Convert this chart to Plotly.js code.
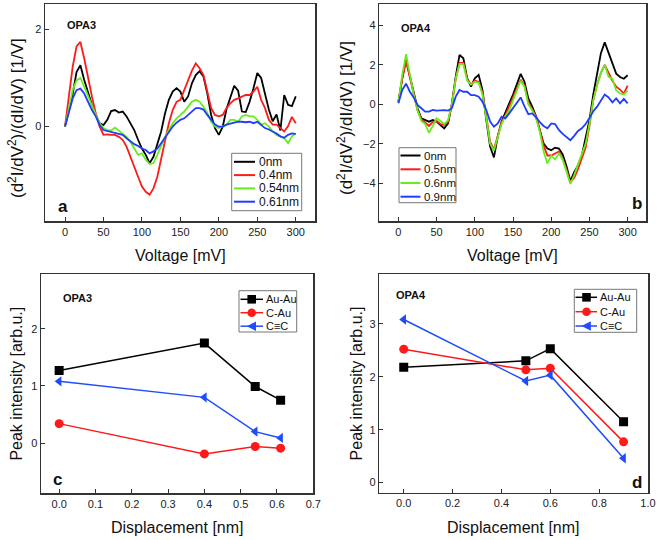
<!DOCTYPE html>
<html>
<head>
<meta charset="utf-8">
<script src="https://cdn.plot.ly/plotly-3.0.1.min.js"></script>
<style>html,body{margin:0;padding:0;background:#fff;}#chart{width:661px;height:540px;}</style>
</head>
<body>
<div id="chart"></div>
<script>
// ---------- DATA ----------
var voltage = [0,5,10,15,20,25,30,35,40,45,50,55,60,65,70,75,80,85,90,95,100,105,110,115,120,125,130,135,140,145,150,155,160,165,170,175,180,185,190,195,200,205,210,215,220,225,230,235,240,245,250,255,260,265,270,275,280,285,290,295,300];

// Panel a (OPA3)
var opa3Labels = ["0nm", "0.4nm", "0.54nm", "0.61nm"];
var opa3_0nm = [0,0.35,0.67,1.12,1.26,0.96,0.68,0.45,0.24,0.07,0.03,0.14,0.32,0.34,0.29,0.31,0.21,0.07,-0.07,-0.27,-0.45,-0.58,-0.75,-0.62,-0.34,-0.10,0.27,0.55,0.72,0.79,0.72,0.51,0.62,0.89,1.06,1.14,1.03,0.68,0.24,-0.03,-0.17,0.0,0.36,0.62,0.84,0.74,0.31,0.30,0.51,0.79,1.10,1.0,0.69,0.35,0.11,0.25,-0.08,0.65,0.45,0.42,0.62];
var opa3_04nm = [0,0.6,1.23,1.65,1.74,1.40,0.99,0.62,0.27,0.0,-0.17,-0.16,-0.17,-0.17,-0.21,-0.27,-0.41,-0.62,-0.86,-1.03,-1.23,-1.34,-1.40,-1.27,-1.03,-0.68,-0.27,0.07,0.34,0.51,0.55,0.75,0.98,1.15,1.30,1.20,1.06,0.72,0.38,0.24,0.21,0.24,0.38,0.48,0.55,0.58,0.62,0.65,0.65,0.72,0.82,0.55,0.38,0.14,0.04,0.04,-0.03,-0.10,0.01,0.20,0.07];
var opa3_054nm = [0,0.4,0.75,0.95,1.0,0.82,0.62,0.41,0.24,0.07,-0.03,-0.07,-0.08,-0.02,-0.08,-0.14,-0.21,-0.31,-0.45,-0.58,-0.55,-0.68,-0.77,-0.75,-0.58,-0.38,-0.21,-0.07,0.07,0.17,0.24,0.31,0.41,0.51,0.55,0.51,0.41,0.28,0.10,0.0,-0.03,0.0,0.04,0.14,0.14,0.10,0.21,0.24,0.21,0.21,0.14,0.04,0.07,0.0,-0.10,-0.17,-0.20,-0.24,-0.34,-0.20,-0.14];
var opa3_061nm = [0,0.3,0.58,0.75,0.78,0.68,0.51,0.34,0.21,0.03,-0.07,-0.09,-0.10,-0.12,-0.14,-0.17,-0.24,-0.31,-0.36,-0.40,-0.45,-0.48,-0.55,-0.51,-0.45,-0.34,-0.22,-0.10,0.0,0.08,0.14,0.17,0.24,0.31,0.38,0.38,0.35,0.24,0.14,0.04,0.0,0.0,0.04,0.06,0.09,0.10,0.10,0.09,0.10,0.07,0.10,0.04,-0.03,-0.06,-0.10,-0.14,-0.20,-0.23,-0.17,-0.14,-0.15];

// Panel b (OPA4)
var opa4Labels = ["0nm", "0.5nm", "0.6nm", "0.9nm"];
var opa4_0nm = [0.14,1.32,2.25,1.41,0.56,-0.2,-0.71,-0.8,-0.88,-0.8,-0.88,-1.05,-1.22,-0.97,0.05,1.41,2.51,2.34,1.32,0.9,1.32,1.5,0.73,-0.8,-2.15,-2.7,-1.64,-0.88,-0.46,0.05,0.5,1.07,1.55,1.15,0.3,-0.1,-0.6,-1.3,-1.99,-2.25,-2.33,-2.2,-2.25,-2.55,-3.15,-3.9,-3.45,-3.1,-2.6,-1.7,-0.8,0.5,1.6,2.6,3.15,2.6,2.0,1.56,1.39,1.3,1.48];
var opa4_05nm = [0.1,1.3,2.2,1.4,0.55,-0.3,-0.75,-0.95,-1.1,-0.9,-0.85,-1.0,-1.05,-0.9,0.0,1.3,2.1,2.1,1.3,1.0,1.2,1.15,0.6,-0.6,-1.9,-2.3,-1.6,-0.9,-0.55,-0.1,0.35,0.85,1.25,0.95,0.1,-0.25,-0.6,-1.3,-2.1,-2.6,-2.6,-2.5,-2.4,-2.8,-3.3,-3.95,-3.75,-3.3,-2.8,-2.2,-1.1,0.2,1.0,1.6,2.0,1.6,1.2,0.9,0.75,0.55,0.95];
var opa4_06nm = [0.1,1.5,2.55,1.5,0.5,-0.3,-0.85,-1.0,-1.45,-1.1,-0.7,-0.85,-1.0,-0.8,0.0,1.3,2.05,2.05,1.2,1.0,1.15,1.1,0.5,-0.7,-2.0,-2.35,-1.7,-1.0,-0.6,-0.3,0.2,0.7,1.2,0.9,0.0,-0.3,-0.7,-1.4,-2.4,-3.0,-2.6,-2.8,-2.5,-2.8,-3.4,-4.05,-3.6,-3.1,-2.6,-2.0,-1.0,0.2,1.0,1.6,2.0,1.4,1.3,0.7,0.55,0.5,0.7];
var opa4_09nm = [0.05,0.73,1.05,0.64,0.35,-0.03,-0.2,-0.37,-0.37,-0.29,-0.32,-0.29,-0.29,-0.32,-0.2,0.39,0.73,0.64,0.64,0.47,0.47,0.39,0.14,-0.29,-0.88,-1.14,-0.97,-0.63,-0.71,-0.46,-0.2,0.05,0.35,-0.1,-0.5,-0.46,-0.65,-0.9,-1.1,-1.22,-0.97,-1.0,-1.3,-1.5,-1.65,-1.82,-1.6,-1.35,-1.22,-1.0,-0.7,-0.35,-0.12,0.2,0.5,0.35,0.1,0.3,0.05,0.28,0.05];

// Panel c (OPA3 peaks)
var bondLabels = ["Au-Au", "C-Au", "C\u2261C"];
var dispOPA3 = [0, 0.4, 0.54, 0.61];
var opa3AuAu = [1.27, 1.75, 0.99, 0.75];
var opa3CAu = [0.34, -0.19, -0.06, -0.09];
var opa3CC = [1.08, 0.80, 0.20, 0.09];

// Panel d (OPA4 peaks)
var dispOPA4 = [0, 0.5, 0.6, 0.9];
var opa4AuAu = [2.18, 2.30, 2.53, 1.15];
var opa4CAu = [2.52, 2.13, 2.16, 0.77];
var opa4CC = [3.08, 1.92, 2.03, 0.46];

// Axis titles
var xTitleV = "Voltage [mV]";
var xTitleD = "Displacement [nm]";
var yTitleA = "(d<sup>2</sup>I/dV<sup>2</sup>)/(dI/dV) [1/V]";
var yTitleB = "(d<sup>2</sup>I/dV<sup>2</sup>)/dI/dV) [1/V]";
var yTitleP = "Peak intensity [arb.u.]";

// ---------- STYLE ----------
var W = 661, H = 540;
function PX(px){ return px / W; }
function PY(py){ return 1 - py / H; }
var FONT = "Liberation Sans, Arial, sans-serif";
var curveColors = ["#000000", "#ff1a1a", "#66ee1a", "#1f3cff"];
var bondColors = ["#000000", "#ff1a1a", "#1f4cff"];
var bondSymbols = ["square", "circle", "triangle-left"];

var traces = [];
var aSeries = [opa3_0nm, opa3_04nm, opa3_054nm, opa3_061nm];
aSeries.forEach(function(s, i){
  traces.push({x: voltage, y: s, xaxis: "x", yaxis: "y", mode: "lines", name: opa3Labels[i],
    line: {color: curveColors[i], width: 1.8}});
});
var bSeries = [opa4_0nm, opa4_05nm, opa4_06nm, opa4_09nm];
bSeries.forEach(function(s, i){
  traces.push({x: voltage, y: s, xaxis: "x2", yaxis: "y2", mode: "lines", name: opa4Labels[i],
    line: {color: curveColors[i], width: 1.8}});
});
var cSeries = [opa3AuAu, opa3CAu, opa3CC];
cSeries.forEach(function(s, i){
  traces.push({x: dispOPA3, y: s, xaxis: "x3", yaxis: "y3", mode: "lines+markers", name: bondLabels[i],
    line: {color: bondColors[i], width: 1.5}, marker: {symbol: bondSymbols[i], size: 9, color: bondColors[i]}});
});
var dSeries = [opa4AuAu, opa4CAu, opa4CC];
dSeries.forEach(function(s, i){
  traces.push({x: dispOPA4, y: s, xaxis: "x4", yaxis: "y4", mode: "lines+markers", name: bondLabels[i],
    line: {color: bondColors[i], width: 1.5}, marker: {symbol: bondSymbols[i], size: 9, color: bondColors[i]}});
});

function axis(domain, range, dtick, anchor, extra){
  var a = {domain: domain, range: range, dtick: dtick, tick0: 0, anchor: anchor,
    showline: true, mirror: true, linecolor: "#333", linewidth: 1.5,
    ticks: "inside", ticklen: 4, tickwidth: 1, tickcolor: "#333",
    showgrid: false, zeroline: false,
    tickfont: {family: FONT, size: 11, color: "#222"}};
  for (var k in extra) a[k] = extra[k];
  return a;
}

var yA = [PY(221), PY(4)], yC = [PY(493.3), PY(274)], yD = [PY(492.7), PY(274)];
var layout = {
  width: W, height: H, margin: {l: 0, r: 0, t: 0, b: 0},
  paper_bgcolor: "#fff", plot_bgcolor: "#fff", showlegend: false,
  font: {family: FONT, color: "#222"},
  xaxis: axis([PX(45), PX(315)], [-26, 325], 50, "y", {}),
  yaxis: axis(yA, [-1.94, 2.52], 2, "x", {}),
  xaxis2: axis([PX(379.3), PX(646)], [-25, 324], 50, "y2", {}),
  yaxis2: axis(yA, [-5.93, 5.1], 2, "x2", {}),
  xaxis3: axis([PX(41), PX(313.3)], [-0.05, 0.7], 0.1, "y3", {tickformat: ".1f"}),
  yaxis3: axis(yC, [-0.88, 2.96], 1, "x3", {}),
  xaxis4: axis([PX(379.3), PX(648)], [-0.1, 1.0], 0.2, "y4", {tickformat: ".1f"}),
  yaxis4: axis(yD, [-0.19, 3.94], 1, "x4", {}),
  shapes: [], annotations: []
};

function addText(text, px, py, size, bold, anchor, angle){
  layout.annotations.push({xref: "paper", yref: "paper", x: PX(px), y: PY(py), text: text,
    showarrow: false, xanchor: anchor || "left", yanchor: "middle", borderpad: 0, textangle: angle || 0,
    font: {family: FONT, size: size, color: "#111", weight: bold ? "bold" : "normal"}});
}
// axis titles
addText(xTitleV, 180, 255.5, 16, false, "center");
addText(xTitleV, 512.6, 255.5, 16, false, "center");
addText(xTitleD, 177, 527, 16, false, "center");
addText(xTitleD, 513.6, 527, 16, false, "center");
addText(yTitleA, 16, 118, 17, false, "center", -90);
addText(yTitleB, 345, 118, 17, false, "center", -90);
addText(yTitleP, 17, 383.6, 16, false, "center", -90);
addText(yTitleP, 356, 383.4, 16, false, "center", -90);
// panel labels
addText("OPA3", 66, 25, 11, true);
addText("a", 57, 206.5, 17, true);
addText("OPA4", 400, 28.3, 11, true);
addText("b", 631, 203.3, 17, true);
addText("OPA3", 61.5, 298.3, 11, true);
addText("c", 52, 479.3, 17, true);
addText("OPA4", 395, 295, 11, true);
addText("d", 631, 482.3, 17, true);

// legends (boxes, samples, labels)
function legendBox(x0, y0, x1, y1){
  layout.shapes.push({type: "rect", xref: "paper", yref: "paper", x0: PX(x0), x1: PX(x1), y0: PY(y1), y1: PY(y0),
    line: {color: "#777", width: 1}, fillcolor: "#fff", layer: "above"});
}
function legendLine(x0, x1, py, color, w){
  layout.shapes.push({type: "line", xref: "paper", yref: "paper", x0: PX(x0), x1: PX(x1), y0: PY(py), y1: PY(py),
    line: {color: color, width: w}, layer: "above"});
}
function legendMarker(sym, cx, cy, color){
  var r = 4.3;
  if (sym === "square") {
    layout.shapes.push({type: "rect", xref: "paper", yref: "paper", x0: PX(cx - r), x1: PX(cx + r), y0: PY(cy + r), y1: PY(cy - r),
      line: {color: color, width: 0}, fillcolor: color, layer: "above"});
  } else if (sym === "circle") {
    layout.shapes.push({type: "circle", xref: "paper", yref: "paper", x0: PX(cx - r), x1: PX(cx + r), y0: PY(cy + r), y1: PY(cy - r),
      line: {color: color, width: 0}, fillcolor: color, layer: "above"});
  } else {
    var p = "M" + PX(cx - r - 0.5) + "," + PY(cy) + " L" + PX(cx + r) + "," + PY(cy - r - 0.5) + " L" + PX(cx + r) + "," + PY(cy + r + 0.5) + " Z";
    layout.shapes.push({type: "path", xref: "paper", yref: "paper", path: p, line: {color: color, width: 0}, fillcolor: color, layer: "above"});
  }
}
// legend a
legendBox(231.7, 153.3, 301.7, 210.7);
[161.8, 175.1, 188.4, 201.7].forEach(function(py, i){
  legendLine(234, 255, py, curveColors[i], 2);
  addText(opa3Labels[i], 257.5, py, 12, false);
});
// legend b
legendBox(399, 147.7, 456, 202.7);
[155.5, 169.3, 183, 196.7].forEach(function(py, i){
  legendLine(400.5, 420.5, py, curveColors[i], 2);
  addText(opa4Labels[i], 422.5, py, 11.5, false);
});
// legend c
legendBox(239, 290.7, 296.7, 332);
[299.3, 312.7, 326.2].forEach(function(py, i){
  legendLine(240.5, 263, py, bondColors[i], 1.5);
  legendMarker(bondSymbols[i], 251.7, py, bondColors[i]);
  addText(bondLabels[i], 265, py, 11, false);
});
// legend d
legendBox(574.3, 289.3, 636.7, 332.3);
[297.3, 311.7, 326].forEach(function(py, i){
  legendLine(575.5, 597, py, bondColors[i], 1.5);
  legendMarker(bondSymbols[i], 586.5, py, bondColors[i]);
  addText(bondLabels[i], 599, py, 11, false);
});

Plotly.newPlot("chart", traces, layout, {staticPlot: true, displayModeBar: false});
</script>
</body>
</html>
